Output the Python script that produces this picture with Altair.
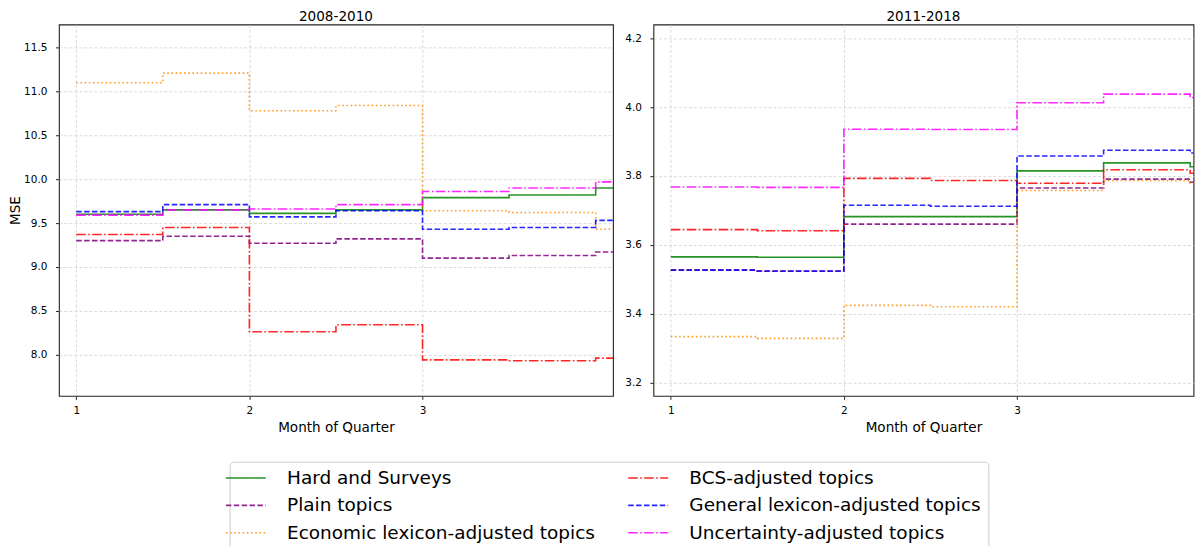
import altair as alt
import pandas as pd

# ---------------- data ----------------
months = [1, 1.5, 2, 2.5, 3, 3.5, 4]
edge_month = 4.5  # the last step continues past the right edge of the plot

series = [
    "Hard and Surveys",
    "Plain topics",
    "Economic lexicon-adjusted topics",
    "BCS-adjusted topics",
    "General lexicon-adjusted topics",
    "Uncertainty-adjusted topics",
]

# 2008-2010
p1_hard = [9.60, 9.65, 9.61, 9.65, 9.79, 9.82, 9.90]
p1_plain = [9.30, 9.35, 9.27, 9.32, 9.10, 9.13, 9.17]
p1_econ = [11.10, 11.21, 10.78, 10.84, 9.64, 9.62, 9.43]
p1_bcs = [9.37, 9.45, 8.26, 8.34, 7.94, 7.93, 7.96]
p1_general = [9.63, 9.71, 9.57, 9.64, 9.43, 9.45, 9.53]
p1_uncert = [9.59, 9.65, 9.66, 9.71, 9.86, 9.90, 9.97]

# 2011-2018
p2_hard = [3.565, 3.564, 3.682, 3.682, 3.815, 3.838, 3.827]
p2_plain = [3.527, 3.523, 3.660, 3.660, 3.765, 3.791, 3.782]
p2_econ = [3.333, 3.328, 3.424, 3.420, 3.758, 3.787, 3.779]
p2_bcs = [3.644, 3.641, 3.793, 3.787, 3.779, 3.818, 3.808]
p2_general = [3.526, 3.524, 3.715, 3.712, 3.858, 3.875, 3.867]
p2_uncert = [3.768, 3.767, 3.936, 3.935, 4.013, 4.038, 4.028]

panel_titles = ["2008-2010", "2011-2018"]
y_ticks_1 = [8.0, 8.5, 9.0, 9.5, 10.0, 10.5, 11.0, 11.5]
y_ticks_2 = [3.2, 3.4, 3.6, 3.8, 4.0, 4.2]
x_ticks = [1, 2, 3]

colors = ["#008000", "#800080", "#ff8c00", "#ff0000", "#0000ff", "#ff00ff"]
dashes = [[1, 0], [5.5, 2.4], [1.6, 2.6], [9.6, 2.4, 1.6, 2.4], [5.5, 2.4], [9.6, 2.4, 1.6, 2.4]]


def build_table(values_list):
    rows = []
    for name, vals in zip(series, values_list):
        xs = months + [edge_month]
        ys = list(vals) + [vals[-1]]
        for i, (m, v) in enumerate(zip(xs, ys)):
            rows.append({"series": name, "month": m, "mse": v, "order": i})
    return pd.DataFrame(rows)


df1 = build_table([p1_hard, p1_plain, p1_econ, p1_bcs, p1_general, p1_uncert])
df2 = build_table([p2_hard, p2_plain, p2_econ, p2_bcs, p2_general, p2_uncert])

FONT = "DejaVu Sans"
W1, W2, H = 555, 541, 372
# the right panel keeps the left panel's month spacing; its right part is cut by the page edge
x_domain_1 = [0.9, 4.1]
x_domain_2 = [0.9, 0.9 + 3.2 * W2 / W1]

legend = alt.Legend(
    title=None,
    orient="none",
    legendX=171,
    legendY=438,
    columns=2,
    symbolType="M-4,0H4",
    symbolSize=100,
    symbolStrokeWidth=1.6,
    symbolOpacity=0.85,
    labelFontSize=18.5,
    labelFont=FONT,
    labelColor="black",
    labelLimit=0,
    labelOffset=32,
    strokeColor="#cccccc",
    fillColor="white",
    cornerRadius=4,
    padding=7,
    rowPadding=8.5,
    columnPadding=29,
)

color_enc = alt.Color(
    "series:N",
    scale=alt.Scale(domain=series, range=colors),
    legend=legend,
)
dash_enc = alt.StrokeDash(
    "series:N",
    scale=alt.Scale(domain=series, range=dashes),
    legend=legend,
)


def panel(df, title, domain, ticks, ytitle, width, xdomain):
    if ytitle:
        yaxis = alt.Axis(values=ticks, format=".1f", labelPadding=8.5, titlePadding=1, title=ytitle)
    else:
        yaxis = alt.Axis(values=ticks, format=".1f", labelPadding=8.5, title=None)
    x_enc = alt.X(
        "month:Q",
        scale=alt.Scale(domain=xdomain, nice=False, zero=False),
        axis=alt.Axis(values=x_ticks, format="d", title="Month of Quarter",
                      labelPadding=6, titlePadding=5),
    )
    return alt.Chart(df).mark_line(
        interpolate="step-after", strokeWidth=1.6, opacity=0.85, clip=True
    ).encode(
        x=x_enc,
        y=alt.Y("mse:Q", scale=alt.Scale(domain=domain, nice=False, zero=False), axis=yaxis),
        color=color_enc,
        strokeDash=dash_enc,
        order=alt.Order("order:Q"),
    ).properties(
        width=width,
        height=H,
        title=alt.TitleParams(title, font=FONT, fontSize=13.6, fontWeight="normal",
                              color="black", offset=1),
    )


left = panel(df1, panel_titles[0], [7.53, 11.765], y_ticks_1, "MSE", W1, x_domain_1)
right = panel(df2, panel_titles[1], [3.161, 4.2406], y_ticks_2, None, W2, x_domain_2)

chart = alt.hconcat(left, right, spacing=9.5).resolve_scale(
    y="independent", x="independent"
).properties(
    padding=0
).configure_view(
    stroke="#222222", strokeWidth=1.1
).configure_axis(
    domain=False,
    tickColor="#222222",
    tickSize=3.5,
    labelFont=FONT,
    labelFontSize=10.5,
    labelColor="black",
    titleFont=FONT,
    titleFontSize=13.6,
    titleFontWeight="normal",
    titleColor="black",
    grid=True,
    gridColor="#d0d0d0",
    gridDash=[3, 2],
    gridWidth=0.8,
)

chart.save("out.html", embed_options={"renderer": "svg", "actions": False})
